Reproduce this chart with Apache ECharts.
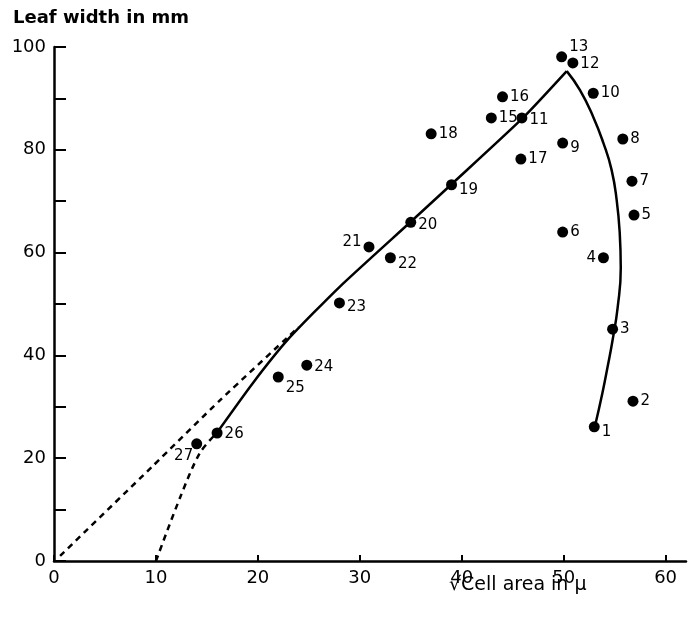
<!DOCTYPE html>
<html>
<head>
<meta charset="utf-8">
<script src="https://cdn.jsdelivr.net/npm/echarts@6/dist/echarts.min.js"></script>
<style>
  html, body { margin: 0; padding: 0; background: #fff; }
  #chart { width: 689px; height: 620px; }
</style>
</head>
<body>
<div id="chart"></div>
<script>
// numbered samples
const pointIds = ["1", "2", "3", "4", "5", "6", "7", "8", "9", "10", "11", "12", "13",
  "15", "16", "17", "18", "19", "20", "21", "22", "23", "24", "25", "26", "27"];
const pointX = [53.0, 56.8, 54.8, 53.9, 56.9, 49.9, 56.7, 55.8, 49.9, 52.9, 45.9, 50.9, 49.8,
  42.9, 44.0, 45.8, 37.0, 39.0, 35.0, 30.9, 33.0, 28.0, 24.8, 22.0, 16.0, 14.0];
const pointY = [26.1, 31.1, 45.1, 59.0, 67.3, 64.0, 73.9, 82.1, 81.3, 91.0, 86.2, 96.9, 98.1,
  86.2, 90.3, 78.2, 83.1, 73.2, 65.9, 61.1, 59.0, 50.2, 38.1, 35.8, 24.9, 22.8];

// rising solid line
const riseX = [16, 19.5, 23, 28, 35, 39, 46, 50.3];
const riseY = [25, 34.6, 43.2, 53.3, 66, 73.3, 86.2, 95.3];
// falling solid curve
const fallX = [50.3, 51.6, 52.9, 53.9, 54.7, 55.2, 55.5, 55.6, 55.3, 54.8, 54.3, 53.8, 53.1];
const fallY = [95.3, 91.6, 86.4, 81.3, 76.1, 70.2, 63.8, 57, 49.4, 43, 37.7, 32.7, 26.5];
// dashed extrapolation to origin
const dashAX = [0.6, 9.6, 16.3, 24];
const dashAY = [1, 18.3, 31.3, 45.5];
// dashed curve to x = 10
const dashBX = [10, 12.4, 14.3, 16];
const dashBY = [0, 12.5, 21, 25];

const xTicks = [0, 10, 20, 30, 40, 50, 60];
const yLabels = [0, 20, 40, 60, 80, 100];

// label placement per point
const labelLeft = { "4": [0, 0], "21": [0, -5], "27": [4, 12] };
const labelRight = {
  "1": [0, 5], "9": [0, 5], "13": [0, -10], "19": [0, 5], "20": [0, 3], "22": [0, 6],
  "23": [0, 4], "24": [0, 2], "25": [0, 11], "26": [0, 1], "12": [0, 1], "11": [0, 2]
};

const pts = pointIds.map((id, i) => {
  let label = { position: "right", offset: labelRight[id] || [0, 0] };
  if (labelLeft[id]) label = { position: "left", offset: labelLeft[id] };
  return { name: id, value: [pointX[i], pointY[i]], label: label };
});

const zip = (xs, ys) => xs.map((x, i) => [x, ys[i]]);

const chart = echarts.init(document.getElementById("chart"), null, { renderer: "canvas" });
const fontFamily = "DejaVu Sans";

chart.setOption({
  animation: false,
  backgroundColor: "#fff",
  title: [
    {
      text: "Leaf width in mm",
      left: 8, top: 4,
      textStyle: { fontFamily: fontFamily, fontSize: 18, fontWeight: "bold", color: "#000" }
    },
    {
      text: "√Cell area in μ",
      left: 444, top: 571,
      textStyle: { fontFamily: fontFamily, fontSize: 19, fontWeight: "normal", color: "#000" }
    }
  ],
  grid: { left: 54, right: 3, top: 47, bottom: 59, containLabel: false },
  xAxis: {
    type: "value",
    min: 0, max: 62,
    axisLine: { lineStyle: { color: "#000", width: 2.5 } },
    axisTick: { inside: true, length: 6, customValues: xTicks, lineStyle: { color: "#000", width: 2 } },
    axisLabel: { customValues: xTicks, margin: 8, color: "#000", fontFamily: fontFamily, fontSize: 18 },
    splitLine: { show: false }
  },
  yAxis: {
    type: "value",
    min: 0, max: 100, interval: 10,
    axisLine: { show: true, lineStyle: { color: "#000", width: 2.5 } },
    axisTick: { inside: true, length: 12, lineStyle: { color: "#000", width: 2 } },
    axisLabel: {
      customValues: yLabels, margin: 8, color: "#000", fontFamily: fontFamily, fontSize: 18
    },
    splitLine: { show: false }
  },
  series: [
    {
      type: "line", data: zip(riseX, riseY), smooth: 0.2, symbol: "none",
      lineStyle: { color: "#000", width: 2.5 }
    },
    {
      type: "line", data: zip(fallX, fallY), smooth: 0.5, symbol: "none",
      lineStyle: { color: "#000", width: 2.5 }
    },
    {
      type: "line", data: zip(dashAX, dashAY), smooth: 0.2, symbol: "none",
      lineStyle: { color: "#000", width: 2.5, type: [6, 5] }
    },
    {
      type: "line", data: zip(dashBX, dashBY), smooth: 0.3, symbol: "none",
      lineStyle: { color: "#000", width: 2.5, type: [6, 5] }
    },
    {
      type: "scatter", data: pts, symbolSize: 11,
      itemStyle: { color: "#000", opacity: 1 },
      label: {
        show: true, formatter: "{b}", distance: 2,
        color: "#000", fontFamily: fontFamily, fontSize: 15
      },
      z: 5
    }
  ]
});
</script>
</body>
</html>
